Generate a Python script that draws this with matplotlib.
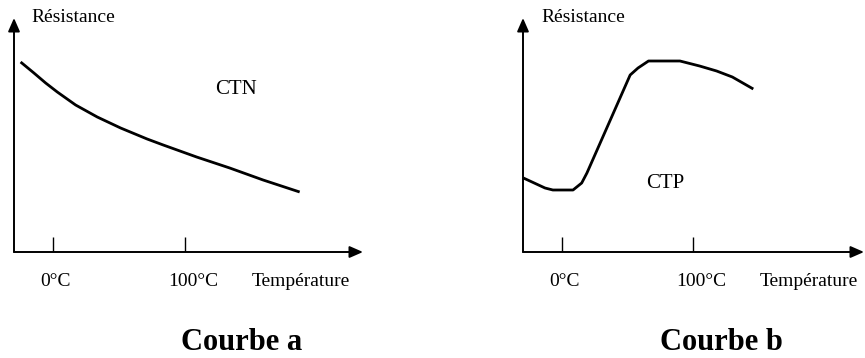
import matplotlib.pyplot as plt

# curve a (CTN): temperature in degC, resistance in arbitrary units
ctn_temp = [-24.5, -14.4, -5.5, 3.3, 17.2, 33.6, 51.3, 71.4, 83.6, 108.9, 134, 159.3, 187]
ctn_res = [190, 179, 169, 160, 147, 135, 124, 113, 107, 95, 84, 72, 60]

# curve b (CTP)
ctp_temp = [-29.5, -13, -7, 8.4, 15, 19, 52, 58, 66, 90, 105, 118, 130, 146]
ctp_res = [74, 64, 62, 62, 69, 79, 177, 184, 191, 191, 186, 181, 175, 163]

ticks = [0, 100]
tick_labels = ['0°C', '100°C']
titles = ['Courbe a', 'Courbe b']
names = ['CTN', 'CTP']

W, H = 865, 358
plt.rcParams['font.family'] = ['Liberation Serif', 'DejaVu Serif']

fig = plt.figure(figsize=(W / 100, H / 100), dpi=100)


def panel(x0, x1, xlim, temp, res, name, name_pos, title, title_x):
    # axes placed in pixel units: y-axis at x0, x-axis at y=252 from top
    ax = fig.add_axes([x0 / W, (H - 252) / H, (x1 - x0) / W, 234 / H])
    ax.set_xlim(*xlim)
    ax.set_ylim(0, 234)
    ax.axis('off')

    arrow = dict(arrowstyle='-|>,head_length=0.8,head_width=0.35',
                 color='black', lw=1.4, mutation_scale=10, shrinkA=0, shrinkB=0)
    ax.annotate('', xy=(xlim[1], 0), xytext=(xlim[0], 0),
                arrowprops=arrow, annotation_clip=False)
    ax.annotate('', xy=(xlim[0], 234), xytext=(xlim[0], 0),
                arrowprops=arrow, annotation_clip=False)

    ax.vlines(ticks, 0, 15, color='black', lw=1.0)
    ax.plot(temp, res, color='black', lw=2.0, solid_capstyle='butt',
            solid_joinstyle='round')

    ax.text(-16, 234, 'Résistance', fontsize=14, ha='left', va='center')
    ax.text(2, -30, tick_labels[0], fontsize=14, ha='center', va='center')
    ax.text(106, -30, tick_labels[1], fontsize=14, ha='center', va='center')
    ax.text(188, -30, 'Température', fontsize=14, ha='center', va='center')
    ax.text(name_pos[0], name_pos[1], name, fontsize=15, ha='center', va='center')

    fig.text(title_x / W, (H - 342) / H, title, fontsize=22, fontweight='bold',
             ha='center', va='center')
    return ax


panel(14, 363, (-29.5, 235), ctn_temp, ctn_res, names[0], (139, 162), titles[0], 242)
panel(523, 864, (-29.8, 230.5), ctp_temp, ctp_res, names[1], (79, 69), titles[1], 721)

fig.savefig('out.png', dpi=100, facecolor='white')
